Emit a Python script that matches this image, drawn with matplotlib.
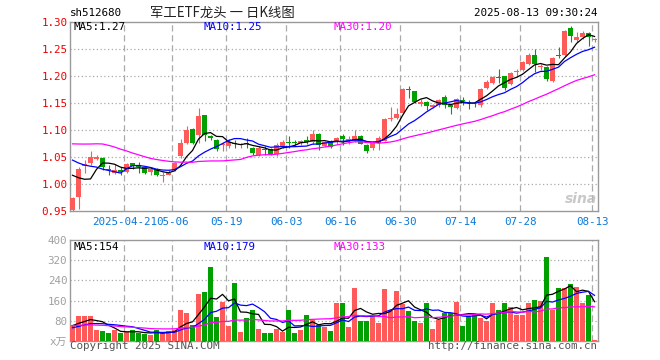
import matplotlib
matplotlib.use('Agg')
import matplotlib.pyplot as plt
import numpy as np

# ---------------- data ----------------
opens = [0.952, 0.975, 1.033, 1.039, 1.046, 1.048, 1.028, 1.021, 1.026, 1.022,
         1.038, 1.035, 1.031, 1.022, 1.026, 1.015, 1.017, 1.025, 1.051, 1.075,
         1.101, 1.090, 1.127, 1.089, 1.082, 1.072, 1.070, 1.076, 1.072, 1.075,
         1.066, 1.054, 1.064, 1.064, 1.055, 1.070, 1.077, 1.077, 1.075, 1.081,
         1.077, 1.093, 1.070, 1.078, 1.077, 1.089, 1.082, 1.081, 1.089, 1.072,
         1.067, 1.075, 1.080, 1.120, 1.121, 1.131, 1.176, 1.171, 1.148, 1.152,
         1.143, 1.145, 1.160, 1.145, 1.141, 1.154, 1.152, 1.148, 1.145, 1.177,
         1.186, 1.198, 1.199, 1.184, 1.206, 1.210, 1.222, 1.238, 1.216, 1.216,
         1.190, 1.238, 1.238, 1.288, 1.265, 1.271, 1.278, 1.266]
highs = [0.975, 1.031, 1.044, 1.060, 1.054, 1.049, 1.035, 1.037, 1.032, 1.038,
         1.039, 1.040, 1.032, 1.031, 1.029, 1.022, 1.025, 1.041, 1.083, 1.107,
         1.103, 1.141, 1.128, 1.091, 1.083, 1.077, 1.083, 1.082, 1.076, 1.084,
         1.069, 1.070, 1.070, 1.066, 1.075, 1.081, 1.089, 1.082, 1.082, 1.089,
         1.100, 1.094, 1.080, 1.082, 1.087, 1.093, 1.089, 1.099, 1.090, 1.073,
         1.080, 1.088, 1.121, 1.142, 1.140, 1.177, 1.181, 1.172, 1.156, 1.154,
         1.148, 1.156, 1.164, 1.147, 1.158, 1.160, 1.155, 1.152, 1.177, 1.192,
         1.199, 1.212, 1.200, 1.206, 1.213, 1.227, 1.241, 1.249, 1.222, 1.217,
         1.234, 1.253, 1.284, 1.291, 1.281, 1.282, 1.280, 1.269]
lows = [0.950, 0.954, 1.020, 1.035, 1.044, 1.026, 1.016, 1.018, 1.016, 1.020,
        1.027, 1.021, 1.018, 1.016, 1.015, 1.004, 1.016, 1.024, 1.047, 1.073,
        1.073, 1.076, 1.080, 1.082, 1.061, 1.061, 1.067, 1.067, 1.066, 1.066,
        1.054, 1.052, 1.054, 1.053, 1.052, 1.066, 1.066, 1.072, 1.072, 1.073,
        1.074, 1.062, 1.068, 1.066, 1.074, 1.072, 1.074, 1.078, 1.073, 1.058,
        1.063, 1.062, 1.079, 1.117, 1.119, 1.130, 1.158, 1.149, 1.144, 1.137,
        1.140, 1.142, 1.141, 1.130, 1.139, 1.146, 1.139, 1.143, 1.143, 1.176,
        1.185, 1.186, 1.174, 1.182, 1.197, 1.208, 1.220, 1.207, 1.210, 1.190,
        1.188, 1.233, 1.236, 1.263, 1.263, 1.268, 1.254, 1.263]
closes = [0.974, 1.027, 1.036, 1.049, 1.049, 1.032, 1.026, 1.026, 1.022, 1.037,
          1.033, 1.031, 1.021, 1.027, 1.017, 1.017, 1.021, 1.039, 1.075, 1.099,
          1.075, 1.126, 1.090, 1.084, 1.064, 1.073, 1.078, 1.074, 1.074, 1.073,
          1.057, 1.067, 1.062, 1.055, 1.072, 1.077, 1.076, 1.075, 1.080, 1.078,
          1.092, 1.072, 1.078, 1.069, 1.085, 1.083, 1.083, 1.089, 1.074, 1.061,
          1.077, 1.085, 1.120, 1.121, 1.130, 1.176, 1.174, 1.151, 1.152, 1.144,
          1.146, 1.155, 1.145, 1.143, 1.156, 1.153, 1.149, 1.147, 1.176, 1.189,
          1.197, 1.196, 1.178, 1.205, 1.208, 1.226, 1.239, 1.221, 1.218, 1.193,
          1.233, 1.236, 1.283, 1.274, 1.271, 1.279, 1.271, 1.267]
volumes = [63, 100, 97, 97, 44, 40, 29, 44, 30, 34,
           41, 29, 27, 23, 42, 30, 38, 44, 121, 110,
           62, 185, 195, 294, 94, 155, 57, 230, 36, 89,
           124, 45, 32, 32, 48, 34, 121, 29, 41, 101,
           84, 61, 54, 38, 150, 149, 56, 208, 80, 80,
           103, 72, 205, 124, 200, 147, 120, 80, 69, 149,
           45, 83, 111, 111, 156, 60, 100, 107, 92, 77,
           149, 124, 149, 136, 103, 103, 149, 164, 157, 334,
           121, 209, 209, 224, 213, 152, 184, 4]
# closes / volumes of the 29 sessions before the visible window (estimated so
# that the moving averages start where the reference lines start)
prev_closes = [1.035, 1.040, 1.045, 1.038, 1.042,
               1.100, 1.120, 1.140, 1.135, 1.150, 1.130, 1.125, 1.120,
               1.080, 1.070, 1.065, 1.075,
               1.090, 1.095, 1.085,
               1.080, 1.075, 1.070, 1.065, 1.070,
               1.050, 1.050, 1.046, 0.960]
prev_volumes = [70, 75, 65, 72, 68, 70,
                85, 90, 80, 78, 82, 75, 85, 70,
                40, 38, 35, 42, 36, 39,
                45, 40, 42, 43, 44,
                55, 60, 58, 64]
tick_idx = [9, 17, 26, 36, 45, 55, 65, 75, 87]
tick_labels = ['2025-04-21', '05-06', '05-19', '06-03', '06-16',
               '06-30', '07-14', '07-28', '08-13']
price_ticks = [0.95, 1.00, 1.05, 1.10, 1.15, 1.20, 1.25, 1.30]
vol_ticks = [80, 160, 240, 320, 400]

# ---------------- styling ----------------
RED = '#ff5a5a'
GREEN = '#00a000'
GRID = '#aaaaaa'
SPINE = '#999999'
BLUE_TXT = '#0a78d8'
MONO = ['DejaVu Sans Mono', 'Noto Sans CJK SC']
FS = 7.2

W, H = 660, 360
fig = plt.figure(figsize=(6.6, 3.6), dpi=100)


def ax_px(x0, y0, x1, y1):
    return fig.add_axes([x0 / W, 1 - y1 / H, (x1 - x0) / W, (y1 - y0) / H])


ax = ax_px(70, 21.5, 598, 211)
axv = ax_px(70, 240.3, 598, 340.7)


def ma(prev, vals, n):
    full = np.array(list(prev) + list(vals), dtype=float)
    out = np.convolve(full, np.ones(n) / n, mode='valid')
    return out[-len(vals):]


o = np.array(opens); h = np.array(highs); l = np.array(lows); c = np.array(closes)
v = np.array(volumes, dtype=float)
x = np.arange(len(c))
up = c >= o
cols = np.where(up, RED, GREEN)

# candles
ax.vlines(x, l, h, colors=cols, lw=0.8, zorder=3)
body = np.maximum(np.abs(c - o), 0.0012)
ax.bar(x, body, bottom=np.minimum(o, c), width=0.8, color=cols, lw=0, zorder=3)

ma_cols = {5: 'black', 10: '#0000ff', 30: '#ff00ff'}
for n, col in ma_cols.items():
    ax.plot(x, ma(prev_closes, closes, n), color=col, lw=0.9, zorder=4)
    axv.plot(x, ma(prev_volumes, volumes, n), color=col, lw=0.9, zorder=4)

axv.bar(x, v, width=0.8, color=cols, lw=0, zorder=3)

ax.set_xlim(-0.42, len(c) - 0.42)
axv.set_xlim(-0.42, len(c) - 0.42)
ax.set_ylim(0.95, 1.30)
axv.set_ylim(0, 400)

# grids
grid_x = np.array(tick_idx) - 0.37
for a in (ax, axv):
    for gx in grid_x:
        a.axvline(gx, color=GRID, lw=0.9, ls=(0, (5, 3)), zorder=1)
for py in price_ticks[1:-1]:
    ax.axhline(py, color=GRID, lw=0.9, ls=(0, (1, 2)), zorder=1)
for vy in vol_ticks[:-1]:
    axv.axhline(vy, color=GRID, lw=0.9, ls=(0, (1, 2)), zorder=1)

for a in (ax, axv):
    for s in a.spines.values():
        s.set_color(SPINE)
        s.set_linewidth(1.0)
    a.tick_params(length=0)

ax.set_yticks(price_ticks)
ax.set_yticklabels(['%.2f' % t for t in price_ticks], color='#ee0000',
                   fontsize=FS + 0.6, family=MONO)
ax.tick_params(axis='y', pad=2)
ax.set_xticks(grid_x)
ax.set_xticklabels(tick_labels, color=BLUE_TXT, fontsize=FS + 0.6, family=MONO)
ax.tick_params(axis='x', pad=4)

axv.set_yticks([0] + vol_ticks)
axv.set_yticklabels(['x万'] + [str(t) for t in vol_ticks], color='#a0a0a0',
                    fontsize=FS + 0.6, family=MONO)
axv.tick_params(axis='y', pad=2)
axv.set_xticks([])


def ftxt(px, py, s, **kw):
    kw.setdefault('family', MONO)
    kw.setdefault('fontsize', FS + 0.6)
    fig.text(px / W, 1 - py / H, s, **kw)


ftxt(70, 13, 'sh512680', va='center', ha='left', color='black')
ftxt(150, 12.5, '军工ETF龙头 一 日K线图', va='center', ha='left', color='#222222',
     family=['Noto Sans CJK SC', 'DejaVu Sans'], fontsize=9.6)
ftxt(597, 13, '2025-08-13 09:30:24', va='center', ha='right', color='black')

ftxt(74, 26.5, 'MA5:1.27', va='center', ha='left', color='black')
ftxt(204, 26.5, 'MA10:1.25', va='center', ha='left', color='#0000ff')
ftxt(334, 26.5, 'MA30:1.20', va='center', ha='left', color='#ff00ff')
ftxt(74, 246.5, 'MA5:154', va='center', ha='left', color='black')
ftxt(204, 246.5, 'MA10:179', va='center', ha='left', color='#0000ff')
ftxt(334, 246.5, 'MA30:133', va='center', ha='left', color='#ff00ff')

ftxt(70, 346, 'Copyright 2025 SINA.COM', va='center', ha='left', color='#555555')
ftxt(597, 346, 'http://finance.sina.com.cn', va='center', ha='right', color='#555555')

ftxt(581, 199, 'sina', va='center', ha='center', color='#bbbbbb',
     family='DejaVu Sans', fontsize=10, fontweight='bold', style='italic', alpha=0.8)

fig.savefig('out.png', dpi=100)
